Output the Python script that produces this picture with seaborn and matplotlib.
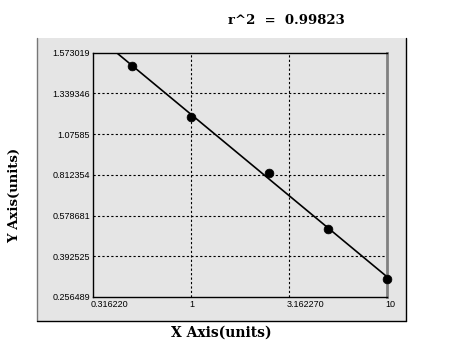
import numpy as np
import matplotlib
matplotlib.use('Agg')
import matplotlib.pyplot as plt
import matplotlib.transforms as mtransforms
from matplotlib.patches import Rectangle
from matplotlib.lines import Line2D
import seaborn as sns

# datos
conc = [0.5, 1, 2.5, 5, 10]
od = [1.494, 1.189, 0.823, 0.517, 0.318]
y_ticks = [0.256489, 0.392525, 0.578681, 0.812354, 1.07585, 1.339346, 1.573019]
y_labels = ['0.256489', '0.392525', '0.578681', '0.812354', '1.07585', '1.339346', '1.573019']
x_ticks = [0.316228, 1, 3.162278, 10]
x_labels = ['0.316220', '1', '3.162270', '10']
r2_text = 'r^2  =  0.99823'

yt = np.array(y_ticks)
idx = np.arange(len(yt), dtype=float)


def fwd(v):
    v = np.asarray(v, dtype=float)
    out = np.interp(v, yt, idx)
    out = np.where(v < yt[0], (v - yt[0]) / (yt[1] - yt[0]), out)
    out = np.where(v > yt[-1], idx[-1] + (v - yt[-1]) / (yt[-1] - yt[-2]), out)
    return out


def inv(t):
    t = np.asarray(t, dtype=float)
    out = np.interp(t, idx, yt)
    out = np.where(t < 0, yt[0] + t * (yt[1] - yt[0]), out)
    out = np.where(t > idx[-1], yt[-1] + (t - idx[-1]) * (yt[-1] - yt[-2]), out)
    return out


# ajuste lineal en el espacio transformado
coef = np.polyfit(np.log10(conc), fwd(od), 1)
x_line = np.geomspace(0.316228, 10, 60)
y_line = inv(np.polyval(coef, np.log10(x_line)))

sns.set_style('white')
plt.rcParams['text.color'] = 'black'
gray = '#e5e5e5'

fig = plt.figure(figsize=(4.62, 3.56), dpi=100)
W, H = 462, 356

# caja gris exterior
fig.add_artist(Rectangle((37 / W, 1 - 321 / H), (406 - 37) / W, (321 - 38) / H,
                         transform=fig.transFigure, facecolor=gray, edgecolor='none', zorder=0))
fig.add_artist(Line2D([37 / W, 37 / W], [1 - 321 / H, 1 - 38 / H], transform=fig.transFigure,
                      color='#777777', lw=1))
fig.add_artist(Line2D([406 / W, 406 / W], [1 - 321 / H, 1 - 38 / H], transform=fig.transFigure,
                      color='black', lw=1))
fig.add_artist(Line2D([37 / W, 406 / W], [1 - 321 / H, 1 - 321 / H], transform=fig.transFigure,
                      color='black', lw=1))

ax = fig.add_axes([93 / W, 1 - 297 / H, (387 - 93) / W, (297 - 52.5) / H])
ax.set_facecolor(gray)
ax.set_xscale('log')
ax.set_yscale('function', functions=(fwd, inv))

sns.lineplot(x=x_line, y=y_line, ax=ax, color='black', lw=1.2, sort=False, estimator=None)
sns.scatterplot(x=conc, y=od, ax=ax, color='black', s=40, edgecolor='black', zorder=5, clip_on=False)

ax.set_xlim(0.316228, 10)
ax.set_ylim(y_ticks[0], y_ticks[-1])

ax.set_xticks(x_ticks)
ax.set_xticklabels(x_labels, ha='left')
ax.xaxis.set_minor_locator(matplotlib.ticker.NullLocator())
ax.set_yticks(y_ticks)
ax.set_yticklabels(y_labels)
ax.tick_params(axis='both', length=0, labelsize=6.5, pad=2, colors='black')
shift = mtransforms.ScaledTranslation(-2 / 100, 0, fig.dpi_scale_trans)
for lab in ax.get_xticklabels():
    lab.set_transform(lab.get_transform() + shift)
for lab in ax.get_xticklabels() + ax.get_yticklabels():
    lab.set_family('Liberation Sans')

for v in x_ticks[1:-1]:
    ax.axvline(v, color='black', lw=0.8, ls=(0, (2, 2)), zorder=1)
for v in y_ticks[1:-1]:
    ax.axhline(v, color='black', lw=0.8, ls=(0, (2, 2)), zorder=1)

for s in ['top', 'left', 'bottom']:
    ax.spines[s].set_color('black')
    ax.spines[s].set_linewidth(1)
ax.spines['right'].set_color('#808080')
ax.spines['right'].set_linewidth(2)

ax.set_xlabel('')
ax.set_ylabel('')
fig.text(221.5 / W, 1 - 333 / H, 'X Axis(units)', ha='center', va='center', color='black',
         family='DejaVu Serif', weight='bold', fontsize=10)
fig.text(15 / W, 1 - 195 / H, 'Y Axis(units)', ha='center', va='center', rotation=90,
         color='black', family='DejaVu Serif', weight='bold', fontsize=9.5)
fig.text(286 / W, 1 - 20 / H, r2_text, ha='center', va='center', color='black',
         family='DejaVu Serif', weight='bold', fontsize=9.5)

fig.savefig('out.png', dpi=100)
